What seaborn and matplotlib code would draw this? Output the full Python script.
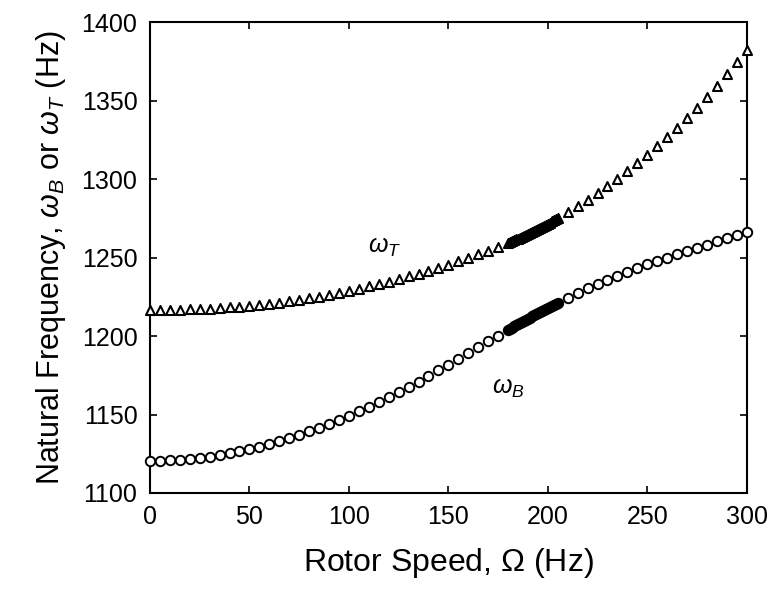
import matplotlib
matplotlib.use("Agg")
import matplotlib.pyplot as plt
import seaborn as sns
import pandas as pd

# ---- data ----
# regular (sparse) samples
omega_lo = [0, 5, 10, 15, 20, 25, 30, 35, 40, 45, 50, 55, 60, 65, 70, 75, 80, 85,
            90, 95, 100, 105, 110, 115, 120, 125, 130, 135, 140, 145, 150, 155,
            160, 165, 170, 175]
omega_hi = [210, 215, 220, 225, 230, 235, 240, 245, 250, 255, 260, 265, 270, 275,
            280, 285, 290, 295, 300]
# densely sampled stretch (180-205 Hz)
omega_dense = [180, 181, 182, 183, 184, 185, 186, 187, 188, 189, 190, 191, 192,
               193, 194, 195, 196, 197, 198, 199, 200, 201, 202, 203, 204, 205]

wT_lo = [1216.5, 1216.5, 1216.6, 1216.7, 1216.9, 1217.2, 1217.5, 1217.8, 1218.3,
         1218.7, 1219.2, 1219.8, 1220.5, 1221.2, 1222.1, 1223.0, 1224.0, 1225.1,
         1226.2, 1227.4, 1228.7, 1230.1, 1231.6, 1233.1, 1234.7, 1236.3, 1238.0,
         1239.8, 1241.6, 1243.5, 1245.5, 1247.5, 1249.7, 1252.0, 1254.4, 1257.0]
wT_dense = [1259.3, 1259.8, 1260.4, 1260.9, 1261.5, 1262.1, 1262.7, 1263.3, 1263.9,
            1264.5, 1265.1, 1265.7, 1266.3, 1267.0, 1267.6, 1268.3, 1268.9, 1269.6,
            1270.3, 1270.9, 1271.6, 1272.3, 1273.0, 1273.7, 1274.4, 1275.1]
wT_hi = [1278.8, 1282.7, 1286.7, 1291.0, 1295.5, 1300.2, 1305.1, 1310.2, 1315.5,
         1321.0, 1326.7, 1332.7, 1338.8, 1345.2, 1352.0, 1359.5, 1367.0, 1374.5,
         1382.0]

wB_lo = [1120.5, 1120.6, 1120.8, 1121.2, 1121.7, 1122.4, 1123.2, 1124.2, 1125.3,
         1126.6, 1128.0, 1129.6, 1131.3, 1133.1, 1135.0, 1137.1, 1139.3, 1141.6,
         1144.0, 1146.6, 1149.3, 1152.1, 1155.0, 1158.0, 1161.1, 1164.3, 1167.6,
         1171.0, 1174.5, 1178.1, 1181.8, 1185.5, 1189.2, 1192.9, 1196.6, 1200.3]
wB_dense = [1204.0, 1204.7, 1205.4, 1206.2, 1206.9, 1207.6, 1208.3, 1209.0, 1209.7,
            1210.4, 1211.1, 1211.8, 1212.5, 1213.2, 1213.9, 1214.5, 1215.2, 1215.9,
            1216.6, 1217.2, 1217.9, 1218.6, 1219.3, 1219.9, 1220.6, 1221.3]
wB_hi = [1224.5, 1227.5, 1230.4, 1233.2, 1235.9, 1238.5, 1241.0, 1243.4, 1245.7,
         1247.8, 1249.9, 1252.0, 1254.1, 1256.2, 1258.3, 1260.4, 1262.5, 1264.5,
         1266.5]

x_ticks = [0, 50, 100, 150, 200, 250, 300]
y_ticks = [1100, 1150, 1200, 1250, 1300, 1350, 1400]

# ---- build tables ----
dfT = pd.DataFrame({"Omega": omega_lo + omega_hi, "freq": wT_lo + wT_hi})
dfB = pd.DataFrame({"Omega": omega_lo + omega_hi, "freq": wB_lo + wB_hi})
dfTd = pd.DataFrame({"Omega": omega_dense, "freq": wT_dense})
dfBd = pd.DataFrame({"Omega": omega_dense, "freq": wB_dense})

sns.set_style("ticks")
plt.rcParams["font.family"] = ["Liberation Sans", "DejaVu Sans"]
plt.rcParams["mathtext.fontset"] = "custom"
plt.rcParams["mathtext.rm"] = "Liberation Sans"
plt.rcParams["mathtext.it"] = "Liberation Sans:italic"
plt.rcParams["text.color"] = "black"
plt.rcParams["axes.labelcolor"] = "black"

fig = plt.figure(figsize=(7.73, 5.89), dpi=100)
ax = fig.add_axes([0.194, 0.163, 0.772, 0.7995])

sns.scatterplot(data=dfT, x="Omega", y="freq", marker="^", s=42,
                facecolor="white", edgecolor="black", linewidth=1.5,
                ax=ax, clip_on=False, zorder=3)
sns.scatterplot(data=dfB, x="Omega", y="freq", marker="o", s=46,
                facecolor="white", edgecolor="black", linewidth=1.4,
                ax=ax, clip_on=False, zorder=3)
sns.scatterplot(data=dfTd, x="Omega", y="freq", marker="^", s=42,
                facecolor="black", edgecolor="black", linewidth=1.5,
                ax=ax, clip_on=False, zorder=3)
sns.scatterplot(data=dfBd, x="Omega", y="freq", marker="o", s=46,
                facecolor="black", edgecolor="black", linewidth=1.4,
                ax=ax, clip_on=False, zorder=3)

ax.set_xlim(0, 300)
ax.set_ylim(1100, 1400)
ax.set_xticks(x_ticks)
ax.set_yticks(y_ticks)
ax.tick_params(direction="in", length=5, width=1.2, top=True, right=True,
               labelsize=18, colors="black", labelcolor="black", pad=9)
for sp in ax.spines.values():
    sp.set_visible(True)
    sp.set_linewidth(1.5)
    sp.set_color("black")

ax.set_xlabel("Rotor Speed, $\\mathit{Ω}$ (Hz)", fontsize=23, labelpad=12)
ax.set_ylabel(r"Natural Frequency, $\omega_B$ or $\omega_T$ (Hz)", fontsize=22,
              labelpad=10)

ax.text(118, 1257, r"$\omega_T$", fontsize=18, ha="center", va="center")
ax.text(180, 1167, r"$\omega_B$", fontsize=18, ha="center", va="center")

fig.savefig("out.png", dpi=100)
